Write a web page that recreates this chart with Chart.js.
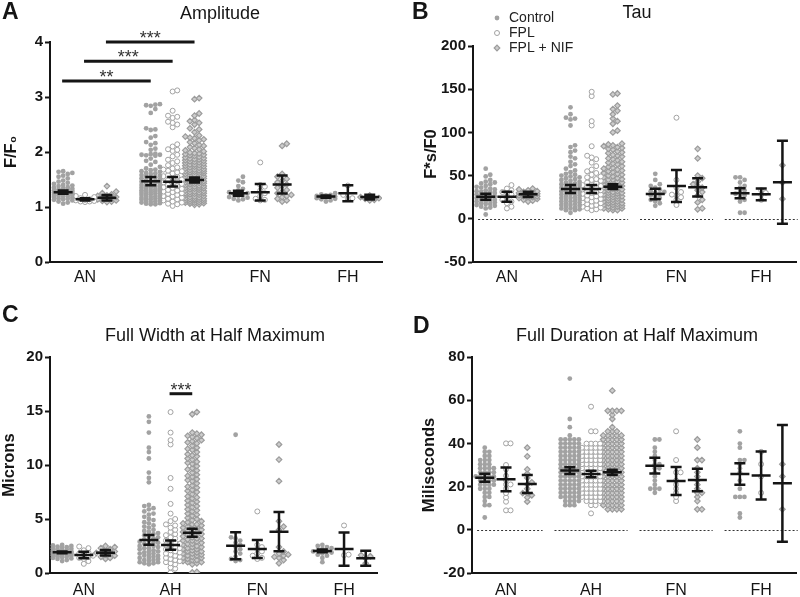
<!DOCTYPE html>
<html><head><meta charset="utf-8">
<script src="https://cdn.jsdelivr.net/npm/chart.js@4.4.1/dist/chart.umd.min.js"></script>
<style>
html,body{margin:0;padding:0;background:#fff;width:800px;height:597px;overflow:hidden}
.p{position:absolute}
canvas{display:block}
</style></head><body>
<div class="p" style="left:0;top:0"><canvas id="cA" width="400" height="298"></canvas></div>
<div class="p" style="left:400px;top:0"><canvas id="cB" width="400" height="298"></canvas></div>
<div class="p" style="left:0;top:298px"><canvas id="cC" width="400" height="299"></canvas></div>
<div class="p" style="left:400px;top:298px"><canvas id="cD" width="400" height="299"></canvas></div>
<script>
// ---------------- DATA ----------------
const categories = ['AN', 'AH', 'FN', 'FH'];
const seriesLabels = ['Control', 'FPL', 'FPL + NIF'];

const amplitudeTicks = [0, 1, 2, 3, 4];
const tauTicks = [-50, 0, 50, 100, 150, 200];
const fwhmTicks = [0, 5, 10, 15, 20];
const fdhmTicks = [-20, 0, 20, 40, 60, 80];

// Amplitude (F/F0)
const amplitudeControl = [
  [1.65,1.64,1.62,1.60,1.57,1.55,1.52,1.48,1.46,1.44,1.42,1.40,1.39,1.38,1.36,1.35,1.34,1.33,1.32,1.31,1.30,1.30,1.29,1.28,1.27,1.27,1.26,1.25,1.25,1.24,1.23,1.22,1.22,1.21,1.20,1.19,1.18,1.17,1.16,1.15,1.14,1.13,1.12,1.10,1.08,1.06],
  [2.87,2.86,2.85,2.84,2.78,2.71,2.43,2.41,2.40,2.29,2.26,2.18,2.16,2.13,2.06,2.04,1.97,1.96,1.95,1.95,1.94,1.93,1.88,1.84,1.82,1.77,1.73,1.70,1.68,1.67,1.65,1.64,1.62,1.61,1.60,1.58,1.57,1.56,1.54,1.53,1.52,1.50,1.49,1.48,1.47,1.46,1.45,1.44,1.43,1.42,1.40,1.39,1.38,1.37,1.36,1.35,1.34,1.33,1.32,1.31,1.30,1.30,1.29,1.28,1.27,1.26,1.25,1.24,1.24,1.23,1.22,1.21,1.20,1.19,1.18,1.17,1.16,1.15,1.15,1.14,1.13,1.12,1.11,1.10,1.09,1.08,1.07,1.06,1.05,1.05],
  [1.55,1.48,1.45,1.38,1.33,1.30,1.27,1.25,1.23,1.21,1.20,1.18,1.17,1.15,1.14,1.12],
  [1.25,1.23,1.22,1.21,1.20,1.19,1.18,1.18,1.17,1.16,1.15,1.14,1.12,1.10]
];
const amplitudeFPL = [
  [1.22,1.20,1.18,1.16,1.14,1.13,1.12,1.11,1.10,1.10,1.09],
  [3.12,3.10,2.75,2.66,2.64,2.62,2.55,2.53,2.50,2.45,2.14,2.10,2.05,2.04,2.02,1.95,1.92,1.86,1.83,1.80,1.76,1.72,1.70,1.68,1.66,1.65,1.63,1.61,1.58,1.56,1.55,1.52,1.50,1.49,1.47,1.45,1.43,1.42,1.40,1.38,1.36,1.35,1.33,1.31,1.30,1.28,1.27,1.25,1.24,1.22,1.20,1.19,1.17,1.15,1.14,1.12,1.10,1.08,1.06,1.05,1.02],
  [1.81,1.40,1.37,1.30,1.25,1.20,1.15,1.13,1.12],
  [1.39,1.22,1.16,1.15]
];
const amplitudeNIF = [
  [1.38,1.28,1.25,1.23,1.21,1.20,1.18,1.17,1.16,1.15,1.14,1.12,1.11,1.10,1.09],
  [2.98,2.96,2.70,2.66,2.58,2.56,2.53,2.50,2.43,2.41,2.36,2.30,2.28,2.26,2.25,2.23,2.21,2.18,2.16,2.13,2.11,2.09,2.07,2.05,2.03,2.01,1.99,1.98,1.97,1.96,1.95,1.94,1.93,1.91,1.90,1.89,1.88,1.87,1.86,1.85,1.84,1.83,1.82,1.81,1.80,1.79,1.77,1.77,1.76,1.75,1.74,1.73,1.72,1.71,1.70,1.69,1.68,1.67,1.66,1.65,1.65,1.64,1.63,1.62,1.61,1.60,1.59,1.58,1.57,1.56,1.55,1.55,1.54,1.53,1.52,1.51,1.50,1.49,1.48,1.47,1.46,1.45,1.45,1.44,1.43,1.42,1.41,1.40,1.39,1.38,1.37,1.36,1.35,1.35,1.34,1.33,1.32,1.31,1.30,1.29,1.28,1.27,1.26,1.25,1.25,1.24,1.23,1.22,1.21,1.20,1.19,1.18,1.17,1.16,1.15,1.15,1.14,1.13,1.12,1.12,1.11,1.10,1.09,1.08,1.08,1.07,1.06,1.05,1.04],
  [2.15,2.11,1.60,1.55,1.51,1.48,1.45,1.41,1.38,1.35,1.31,1.28,1.25,1.22,1.20,1.18,1.15,1.12,1.10],
  [1.21,1.18,1.16,1.15,1.13,1.12]
];
const amplitudeMean = [[1.27,1.14,1.17],[1.47,1.46,1.49],[1.25,1.27,1.41],[1.19,1.25,1.18]];
const amplitudeError = [[0.03,0.02,0.05],[0.075,0.085,0.045],[0.045,0.15,0.165],[0.02,0.145,0.045]];

// Tau (F*s/F0)
const tauControl = [
  [58,51,49,45,43,42,41,40,38,37,36,35,34,33,32,31,31,30,29,28,28,27,26,26,25,24,24,23,22,22,21,20,20,19,18,17,17,16,15,14,13,12,5],
  [129,121,117,116,115,108,85,83,79,77,72,70,66,63,61,58,56,54,52,51,50,49,48,47,46,45,44,43,42,41,40,40,39,38,37,36,36,35,34,33,32,32,31,30,29,28,28,27,26,25,24,24,23,22,21,20,20,19,18,17,16,16,15,14,13,12,12,11,10,10,7],
  [52,45,40,38,36,34,32,31,30,29,27,25,24,22,20,18,15],
  [48,48,45,42,38,36,33,31,29,27,25,22,20,7,7]
];
const tauFPL = [
  [39,35,33,31,30,28,25,22,20,18,14,12],
  [147,142,113,108,84,73,71,69,65,61,57,55,53,51,49,48,46,45,44,42,41,40,39,38,37,36,35,34,33,32,31,30,29,28,27,26,25,24,23,22,21,20,19,18,17,16,15,14,13,12,11,10],
  [117,45,36,31,28,27,25,22,16],
  [33,30,28,22]
];
const tauNIF = [
  [35,34,33,32,31,31,30,30,29,28,28,27,27,26,26,25,25,24,23,22,21,20],
  [145,144,131,127,125,121,116,113,110,102,100,87,86,85,84,83,82,81,80,78,77,76,74,73,72,70,69,68,66,65,64,63,61,60,59,58,57,56,55,54,53,52,51,50,49,48,47,46,45,45,44,43,42,41,41,40,39,38,38,37,36,35,35,34,33,32,32,31,30,30,29,28,28,27,26,26,25,24,24,23,22,22,21,20,20,19,18,18,17,16,16,15,14,14,13,12,12,11,10,10],
  [81,70,50,47,43,40,38,36,33,31,27,22,19,12,11],
  [62,42,23]
];
const tauMean = [[25.6,25.6,28.3],[34.5,34.5,37.2],[28.7,38,36.4],[29.5,28.3,42.2]];
const tauError = [[3.5,5.8,3],[4.5,4.5,2.7],[6,18.5,10.6],[5.8,6.8,48]];

// Full Width at Half Maximum (Microns)
const fwhmControl = [
  [2.6,2.55,2.5,2.45,2.4,2.35,2.3,2.25,2.2,2.15,2.1,2.05,2.0,1.98,1.95,1.92,1.9,1.88,1.85,1.82,1.8,1.78,1.75,1.72,1.7,1.68,1.65,1.6,1.55,1.5,1.45,1.4,1.35,1.3,1.2,1.1],
  [14.5,14.0,13.0,11.6,11.2,10.6,9.3,8.8,8.4,6.3,6.2,6.0,5.9,5.7,5.5,5.4,5.2,5.0,4.9,4.7,4.6,4.4,4.3,4.2,4.0,3.9,3.8,3.7,3.6,3.5,3.4,3.3,3.2,3.1,3.0,2.9,2.8,2.7,2.6,2.5,2.4,2.3,2.2,2.1,2.0,1.9,1.8,1.7,1.6,1.5,1.4,1.3,1.2,1.1,1.0,0.9,0.8,2.8,2.5,2.3,2.0,1.8,1.6,1.4,1.2,1.0,0.9],
  [12.8,3.3,3.2,3.0,2.8,2.6,2.4,2.2,2.0,1.8,1.5,1.3,1.2,1.1],
  [2.6,2.5,2.4,2.3,2.2,2.1,2.0,2.0,1.9,1.8,1.7,1.6,1.4,1.0]
];
const fwhmFPL = [
  [2.45,2.3,2.1,1.9,1.8,1.7,1.6,1.5,1.4,1.3,1.1,0.85],
  [14.9,13.0,12.3,11.9,8.8,7.8,6.4,5.5,5.0,4.8,4.5,4.4,4.2,4.0,3.8,3.6,3.5,3.3,3.2,3.0,2.9,2.8,2.7,2.6,2.5,2.4,2.3,2.2,2.1,2.0,1.9,1.8,1.7,1.6,1.5,1.4,1.3,1.2,1.1,1.0,0.9,0.8,0.5,0.4,0.05],
  [5.7,2.6,2.4,2.2,2.0,1.8,1.6,1.4,1.3],
  [4.4,1.7,1.65]
];
const fwhmNIF = [
  [2.5,2.4,2.3,2.2,2.1,2.0,1.9,1.85,1.8,1.7,1.6,1.5,1.4,1.3],
  [14.9,14.7,13.0,12.9,12.8,12.7,12.6,12.5,12.3,12.2,12.1,12.0,11.8,11.6,11.5,11.4,11.2,11.0,10.9,10.8,10.6,10.5,10.3,10.2,10.1,9.9,9.7,9.6,9.5,9.3,9.1,9.0,8.9,8.7,8.6,8.5,8.3,8.1,8.0,7.9,7.7,7.6,7.5,7.3,7.1,7.0,6.9,6.7,6.6,6.5,6.3,6.2,6.1,5.9,5.8,5.7,5.5,5.4,5.3,5.1,5.0,4.9,4.8,4.7,4.6,4.5,4.5,4.4,4.3,4.2,4.2,4.1,4.0,3.9,3.8,3.8,3.7,3.6,3.5,3.5,3.4,3.3,3.2,3.2,3.1,3.0,3.0,2.9,2.8,2.7,2.7,2.6,2.5,2.4,2.4,2.3,2.2,2.2,2.1,2.0,2.0,1.9,1.8,1.8,1.7,1.6,1.6,1.5,1.4,1.4,1.3,1.2,1.2,1.1,1.0,1.0,0.9,0.8,0.1,0.05],
  [11.9,10.5,8.5,4.8,4.3,4.0,2.4,2.0,1.8,1.7,1.6,1.5,1.4,1.2,0.9],
  [1.65,1.55,1.35,0.9]
];
const fwhmMean = [[1.91,1.67,1.88],[3.06,2.59,3.73],[2.53,2.22,3.83],[2.04,2.22,1.36]];
const fwhmError = [[0.08,0.3,0.25],[0.45,0.43,0.37],[1.25,0.83,1.82],[0.13,1.54,0.7]];

// Full Duration at Half Maximum (Miliseconds)
const fdhmControl = [
  [38,36.1,36.1,34.2,34.2,32.3,32.3,32.3,30.4,30.4,30.4,28.5,28.5,28.5,28.5,26.6,26.6,26.6,26.6,24.7,24.7,24.7,24.7,24.7,22.8,22.8,22.8,22.8,20.9,20.9,20.9,20.9,19,19,19,17.1,17.1,15.2,15.2,13.3,11.4,11.4,5.7],
  [70,51.3,47.5,43.7,41.8,41.8,41.8,41.8,41.8,39.9,39.9,39.9,39.9,39.9,38,38,38,38,38,36.1,36.1,36.1,36.1,36.1,34.2,34.2,34.2,34.2,34.2,32.3,32.3,32.3,32.3,32.3,30.4,30.4,30.4,30.4,30.4,28.5,28.5,28.5,28.5,28.5,26.6,26.6,26.6,26.6,26.6,24.7,24.7,24.7,24.7,24.7,22.8,22.8,22.8,22.8,22.8,20.9,20.9,20.9,20.9,20.9,19,19,19,19,19,17.1,17.1,17.1,17.1,17.1,15.2,15.2,15.2,15.2,15.2,13.3,13.3,13.3,13.3,11.4,11.4,11.4],
  [41.8,41.8,38,36.1,34.2,32.3,30.4,30.4,28.5,28.5,26.6,24.7,22.8,20.9,19,19,19,17.1],
  [45.6,39.9,38,32.3,32.3,30.4,28.5,26.6,22.8,19,15.2,15.2,15.2,7.6,5.7]
];
const fdhmFPL = [
  [40,40,30,28,25,23,21,21,19,17,15,13,9,9],
  [57,45.6,45.6,39.9,39.9,39.9,39.9,38,38,38,38,38,36.1,36.1,36.1,36.1,36.1,34.2,34.2,34.2,34.2,34.2,32.3,32.3,32.3,32.3,32.3,30.4,30.4,30.4,30.4,30.4,28.5,28.5,28.5,28.5,28.5,26.6,26.6,26.6,26.6,26.6,24.7,24.7,24.7,24.7,24.7,22.8,22.8,22.8,22.8,22.8,20.9,20.9,20.9,20.9,20.9,19,19,19,19,19,17.1,17.1,17.1,17.1,17.1,15.2,15.2,15.2,15.2,15.2,13.3,13.3,13.3,13.3,11.4,11.4,7.6],
  [45.6,32.3,26.6,26.6,22.8,20.9,19,17.1,15.2,13.3],
  [36.1,30.4,24.7,17.1]
];
const fdhmNIF = [
  [38,34,28,26,24,22,21,19,17,17,16,15,13],
  [64.4,55.1,55.1,55.1,55.1,53.2,51.3,47.5,45.6,45.6,45.6,43.7,43.7,43.7,43.7,43.7,41.8,41.8,41.8,41.8,41.8,39.9,39.9,39.9,39.9,39.9,38,38,38,38,38,36.1,36.1,36.1,36.1,36.1,34.2,34.2,34.2,34.2,34.2,32.3,32.3,32.3,32.3,32.3,30.4,30.4,30.4,30.4,30.4,28.5,28.5,28.5,28.5,28.5,26.6,26.6,26.6,26.6,26.6,24.7,24.7,24.7,24.7,24.7,22.8,22.8,22.8,22.8,22.8,20.9,20.9,20.9,20.9,20.9,19,19,19,19,19,17.1,17.1,17.1,17.1,17.1,15.2,15.2,15.2,15.2,15.2,13.3,13.3,13.3,13.3,13.3,11.4,11.4,11.4,11.4,11.4,9.5,9.5,9.5,9.5],
  [41.8,38,32.3,32.3,28.5,26.6,24.7,22.8,20.9,19,17.1,17.1,15.2,13.3,9.5,9.5],
  [30.4,24.7,9.5]
];
const fdhmMean = [[24.1,23.4,21.2],[27.4,25.8,26.6],[29.7,22.6,23.1],[25.8,25.1,21.5]];
const fdhmError = [[1.9,5.5,4.2],[1.6,1.5,1.2],[3.6,6.5,5.2],[5,11.1,27]];

// Significance annotations: [category, series] endpoints
const amplitudeSig = [
  {from: [0, 0], to: [1, 0], y: 3.29, text: '**'},
  {from: [0, 1], to: [1, 1], y: 3.65, text: '***'},
  {from: [0, 2], to: [1, 2], y: 4.0, text: '***'}
];
const fwhmSig = [
  {from: [1, 1], to: [1, 2], y: 16.6, text: '***'}
];

// ---------------- STYLE / LAYOUT ----------------
const FONT = "'Liberation Sans', Arial, Helvetica, sans-serif";
const INK = '#151515';
const GRAY = '#a2a2a2';
const OFFS = [-0.25, 0, 0.25];
Chart.defaults.font.family = FONT;
Chart.defaults.color = INK;

const seriesStyles = [
  {pointStyle: 'circle', radius: 2.4, bg: GRAY, border: GRAY, bw: 0},
  {pointStyle: 'circle', radius: 2.5, bg: '#ffffff', border: GRAY, bw: 1},
  {pointStyle: 'rectRot', radius: 2.8, bg: '#cdcdcd', border: '#9c9c9c', bw: 1.2}
];

function swarm(values, center, kx, ky) {
  const STEP = 4.6, MIN = 4.1, COLS = 2;
  const sorted = values.slice().sort((a, b) => a - b);
  const placed = [], out = [];
  const cands = [0];
  for (let s = 1; s <= COLS; s++) cands.push(s * STEP, -s * STEP);
  for (const v of sorted) {
    const py = v * ky;
    let best = 0, bestD = -1;
    for (const cx of cands) {
      let md = Infinity;
      for (const q of placed) {
        const dy = q.py - py;
        if (Math.abs(dy) >= MIN) continue;
        const dd = Math.hypot(q.px - cx, dy);
        if (dd < md) md = dd;
      }
      if (md >= MIN) { best = cx; bestD = Infinity; break; }
      if (md > bestD) { bestD = md; best = cx; }
    }
    placed.push({px: best, py});
    out.push({x: center + best / kx, y: v});
  }
  return out;
}

function makePanel(p) {
  const canvas = document.getElementById(p.canvas);
  const W = canvas.width, H = canvas.height;
  const decor = {
    id: 'decor' + p.letter,
    beforeDatasetsDraw(chart) {
      if (!p.zeroLine) return;
      const xs = chart.scales.x, ys = chart.scales.y, ctx = chart.ctx;
      ctx.save();
      ctx.strokeStyle = '#333';
      ctx.lineWidth = 1;
      ctx.setLineDash([2, 2]);
      const y0 = Math.round(ys.getPixelForValue(0)) + 0.5;
      categories.forEach((c, g) => {
        const a = g === 0 ? -0.34 : g - 0.43;
        ctx.beginPath();
        ctx.moveTo(xs.getPixelForValue(a), y0);
        ctx.lineTo(Math.min(xs.getPixelForValue(g + 0.43), W), y0);
        ctx.stroke();
      });
      ctx.restore();
    },
    afterDatasetsDraw(chart) {
      const xs = chart.scales.x, ys = chart.scales.y, ctx = chart.ctx;
      ctx.save();
      ctx.strokeStyle = INK;
      ctx.lineWidth = 2.5;
      ctx.lineCap = 'butt';
      p.mean.forEach((row, g) => row.forEach((m, s) => {
        const e = p.err[g][s];
        const x = xs.getPixelForValue(g + OFFS[s]);
        const yM = ys.getPixelForValue(m), yT = ys.getPixelForValue(m + e), yB = ys.getPixelForValue(m - e);
        ctx.beginPath();
        ctx.moveTo(x, yT); ctx.lineTo(x, yB);
        ctx.moveTo(x - 5.5, yT); ctx.lineTo(x + 5.5, yT);
        ctx.moveTo(x - 5.5, yB); ctx.lineTo(x + 5.5, yB);
        ctx.moveTo(x - 9.5, yM); ctx.lineTo(x + 9.5, yM);
        ctx.stroke();
      }));
      (p.sig || []).forEach(sg => {
        const x1 = xs.getPixelForValue(sg.from[0] + OFFS[sg.from[1]]) - 1;
        const x2 = xs.getPixelForValue(sg.to[0] + OFFS[sg.to[1]]);
        const y = ys.getPixelForValue(sg.y);
        ctx.lineWidth = 3;
        ctx.beginPath(); ctx.moveTo(x1, y); ctx.lineTo(x2, y); ctx.stroke();
        ctx.fillStyle = '#333';
        ctx.font = '18px ' + FONT;
        ctx.textAlign = 'center';
        ctx.textBaseline = 'alphabetic';
        ctx.fillText(sg.text, (x1 + x2) / 2, y + 2);
      });
      ctx.restore();
    },
    afterDraw(chart) {
      const ctx = chart.ctx;
      ctx.save();
      ctx.fillStyle = INK;
      ctx.textBaseline = 'alphabetic';
      ctx.textAlign = 'left';
      ctx.font = 'bold 23px ' + FONT;
      ctx.fillText(p.letter, p.letterX, p.letterY);
      ctx.textAlign = 'center';
      ctx.font = '18px ' + FONT;
      ctx.fillText(p.title, p.titleX, p.titleY);
      if (p.legend) {
        const lx = 97, ly = [18, 33, 48];
        seriesLabels.forEach((lab, i) => {
          const st = seriesStyles[i];
          ctx.fillStyle = st.bg;
          ctx.strokeStyle = st.border;
          ctx.lineWidth = st.bw;
          Chart.helpers.drawPoint(ctx, {pointStyle: st.pointStyle, radius: st.radius, borderWidth: st.bw, rotation: 0}, lx, ly[i]);
          ctx.fillStyle = '#222';
          ctx.textAlign = 'left';
          ctx.textBaseline = 'middle';
          ctx.font = '14px ' + FONT;
          ctx.fillText(lab, 109, ly[i] + 0.5);
        });
      }
      ctx.restore();
    }
  };

  const chart = new Chart(canvas, {
    type: 'scatter',
    data: {
      datasets: seriesStyles.map((st, i) => ({
        label: seriesLabels[i], data: [],
        pointStyle: st.pointStyle, pointRadius: st.radius,
        backgroundColor: st.bg, borderColor: st.border, borderWidth: st.bw,
        pointHoverRadius: st.radius
      }))
    },
    options: {
      responsive: false, animation: false,
      layout: {padding: {top: p.top, right: W - p.right, bottom: 0, left: 0}},
      plugins: {legend: {display: false}, tooltip: {enabled: false}},
      scales: {
        x: {
          type: 'linear', min: p.xMin, max: p.xMax,
          afterBuildTicks: s => { s.ticks = categories.map((c, i) => ({value: i})); },
          afterFit: s => { s.height = H - p.bottom; },
          ticks: {callback: v => categories[v] || '', font: {size: 16}, color: INK, padding: p.xPad, maxRotation: 0, autoSkip: false},
          grid: {display: true, drawOnChartArea: false, drawTicks: false},
          border: {display: true, color: INK, width: 2}
        },
        y: {
          min: p.yMin, max: p.yMax,
          afterBuildTicks: s => { s.ticks = p.yTicks.map(v => ({value: v})); },
          afterFit: s => { s.width = p.left; },
          ticks: {font: {size: 15, weight: 'bold'}, color: INK, padding: 2},
          grid: {display: true, drawOnChartArea: false, drawTicks: true, tickLength: 5, tickColor: INK, tickWidth: 2, color: INK},
          border: {display: true, color: INK, width: 2},
          title: {display: true, text: p.yTitle, font: {size: 16.5, weight: 'bold'}, color: INK, padding: {top: p.yTitlePad, bottom: 0}}
        }
      }
    },
    plugins: [decor]
  });

  const xs = chart.scales.x, ys = chart.scales.y;
  const kx = xs.getPixelForValue(1) - xs.getPixelForValue(0);
  const ky = ys.getPixelForValue(0) - ys.getPixelForValue(1);
  chart.data.datasets.forEach((ds, s) => {
    const pts = [];
    p.series[s].forEach((vals, g) => pts.push(...swarm(vals, g + OFFS[s], kx, ky)));
    ds.data = pts;
  });
  chart.update('none');
  return chart;
}

makePanel({
  canvas: 'cA', letter: 'A', letterX: 2, letterY: 19, title: 'Amplitude', titleX: 220, titleY: 19,
  yTitle: 'F/F\u2080', yTitlePad: 2, left: 50, right: 382, top: 42, bottom: 262, xPad: 6,
  xMin: -0.40, xMax: 3.39, yMin: 0, yMax: 4, yTicks: amplitudeTicks,
  series: [amplitudeControl, amplitudeFPL, amplitudeNIF], mean: amplitudeMean, err: amplitudeError,
  sig: amplitudeSig, zeroLine: false, legend: false
});
makePanel({
  canvas: 'cB', letter: 'B', letterX: 12, letterY: 19, title: 'Tau', titleX: 237, titleY: 18,
  yTitle: 'F*s/F0', yTitlePad: 22, left: 73, right: 400, top: 46, bottom: 262, xPad: 6,
  xMin: -0.40, xMax: 3.41, yMin: -50, yMax: 200, yTicks: tauTicks,
  series: [tauControl, tauFPL, tauNIF], mean: tauMean, err: tauError,
  sig: [], zeroLine: true, legend: true
});
makePanel({
  canvas: 'cC', letter: 'C', letterX: 2, letterY: 24, title: 'Full Width at Half Maximum', titleX: 215, titleY: 43,
  yTitle: 'Microns', yTitlePad: 0, left: 50, right: 377, top: 59, bottom: 275, xPad: 8,
  xMin: -0.39, xMax: 3.38, yMin: 0, yMax: 20, yTicks: fwhmTicks,
  series: [fwhmControl, fwhmFPL, fwhmNIF], mean: fwhmMean, err: fwhmError,
  sig: fwhmSig, zeroLine: false, legend: false
});
makePanel({
  canvas: 'cD', letter: 'D', letterX: 13, letterY: 35, title: 'Full Duration at Half Maximum', titleX: 237, titleY: 43,
  yTitle: 'Miliseconds', yTitlePad: 20, left: 72, right: 400, top: 59, bottom: 275, xPad: 8,
  xMin: -0.40, xMax: 3.41, yMin: -20, yMax: 80, yTicks: fdhmTicks,
  series: [fdhmControl, fdhmFPL, fdhmNIF], mean: fdhmMean, err: fdhmError,
  sig: [], zeroLine: true, legend: false
});
</script>
</body></html>
